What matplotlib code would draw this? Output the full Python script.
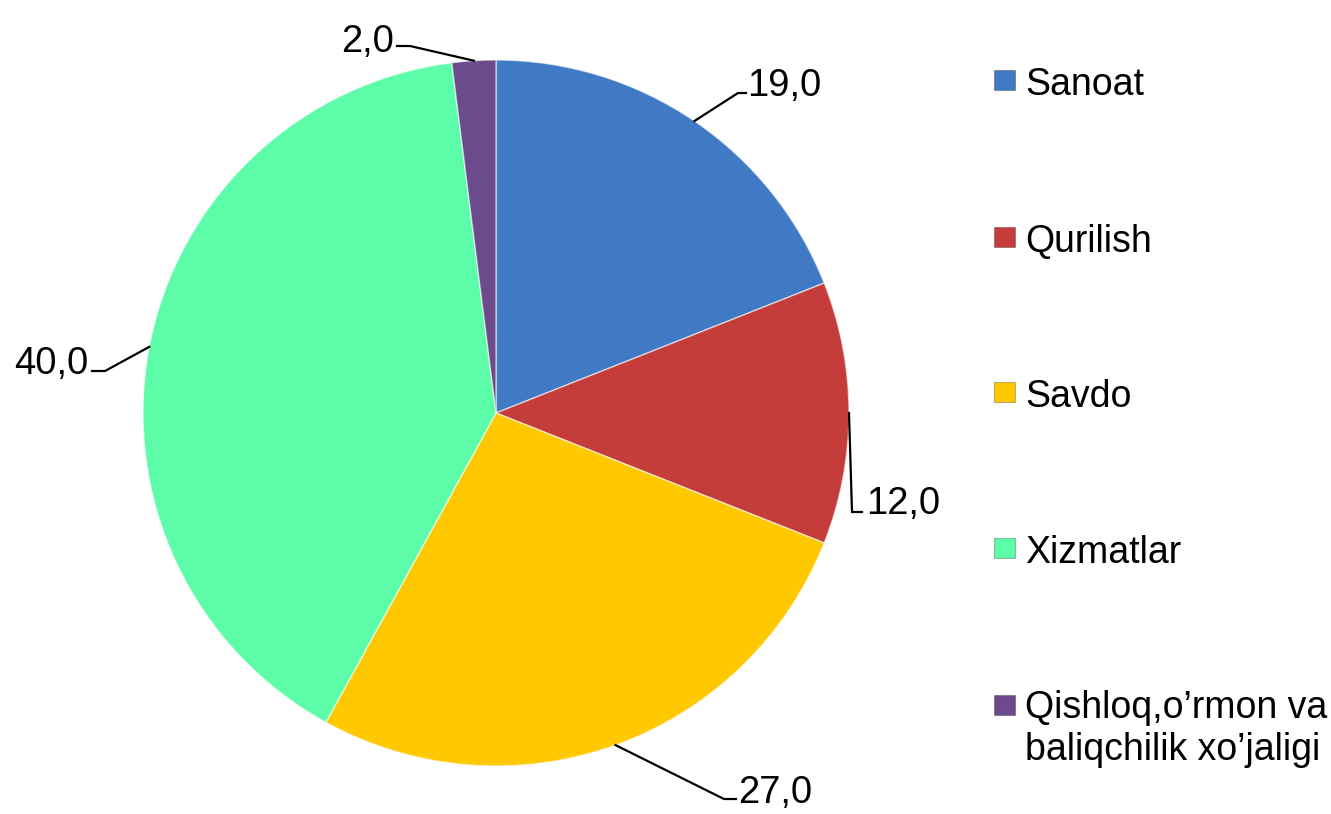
import numpy as np
import matplotlib
matplotlib.use("Agg")
import matplotlib.pyplot as plt
from matplotlib.patches import Rectangle

categories = ["Sanoat", "Qurilish", "Savdo", "Xizmatlar",
              "Qishloq,o’rmon va\nbaliqchilik xo’jaligi"]
values = [19.0, 12.0, 27.0, 40.0, 2.0]
value_labels = ["19,0", "12,0", "27,0", "40,0", "2,0"]
colors = ["#4079c4", "#c43d3a", "#ffc800", "#5cfca8", "#6b4b8c"]

W, H = 1331, 814
plt.rcParams['font.family'] = ['Liberation Sans', 'DejaVu Sans']

fig = plt.figure(figsize=(W / 100, H / 100), dpi=100)
ax = fig.add_axes([0, 0, 1, 1])


def P(x, y):
    # convert top-origin pixel layout coordinates to axes data coords
    return x, H - y


cx, cy = P(496, 413)
R = 353
wedges, _ = ax.pie(values, colors=colors, startangle=90, counterclock=False,
                   radius=R, center=(cx, cy),
                   wedgeprops=dict(edgecolor=(1, 1, 1, 0.6), linewidth=1.0))
ax.set_xlim(0, W)
ax.set_ylim(0, H)
ax.set_aspect('auto')
ax.axis('off')

# label layout: (elbow point, line end, text anchor, ha)
layout = [
    ((738, 93), (746, 93), (747, 96), 'left'),
    ((852, 512), (862, 512), (866, 514), 'left'),
    ((724, 799), (736, 799), (738, 803), 'left'),
    ((105, 371), (92, 371), (88, 374), 'right'),
    ((410, 46), (397, 46), (394, 52), 'right'),
]

for w, lab, (elb, end, tpos, ha) in zip(wedges, value_labels, layout):
    mid = np.deg2rad((w.theta1 + w.theta2) / 2)
    ax_x = cx + R * np.cos(mid)
    ax_y = cy + R * np.sin(mid)
    ex, ey = P(*elb)
    nx, ny = P(*end)
    ax.plot([ax_x, ex, nx], [ax_y, ey, ny], color='black', lw=1.6,
            solid_joinstyle='miter')
    tx, ty = P(*tpos)
    ax.text(tx, ty, lab, ha=ha, va='baseline', fontsize=27.5, color='black')

# legend
rows_baseline = [95, 252, 407, 563, 720]
line_step = 40
for cat, col, yb in zip(categories, colors, rows_baseline):
    sx, sy = P(994, yb - 25)
    ax.add_patch(Rectangle((sx, sy - 20), 21, 20, facecolor=col,
                           edgecolor=(0, 0, 0, 0.25), linewidth=0.8))
    nlines = cat.count("\n") + 1
    tx, ty = P(1025, yb + (nlines - 1) * line_step)
    ax.text(tx, ty, cat, ha='left', va='baseline', fontsize=27,
            color='black', linespacing=1.2)

fig.savefig("out.png", dpi=100)
